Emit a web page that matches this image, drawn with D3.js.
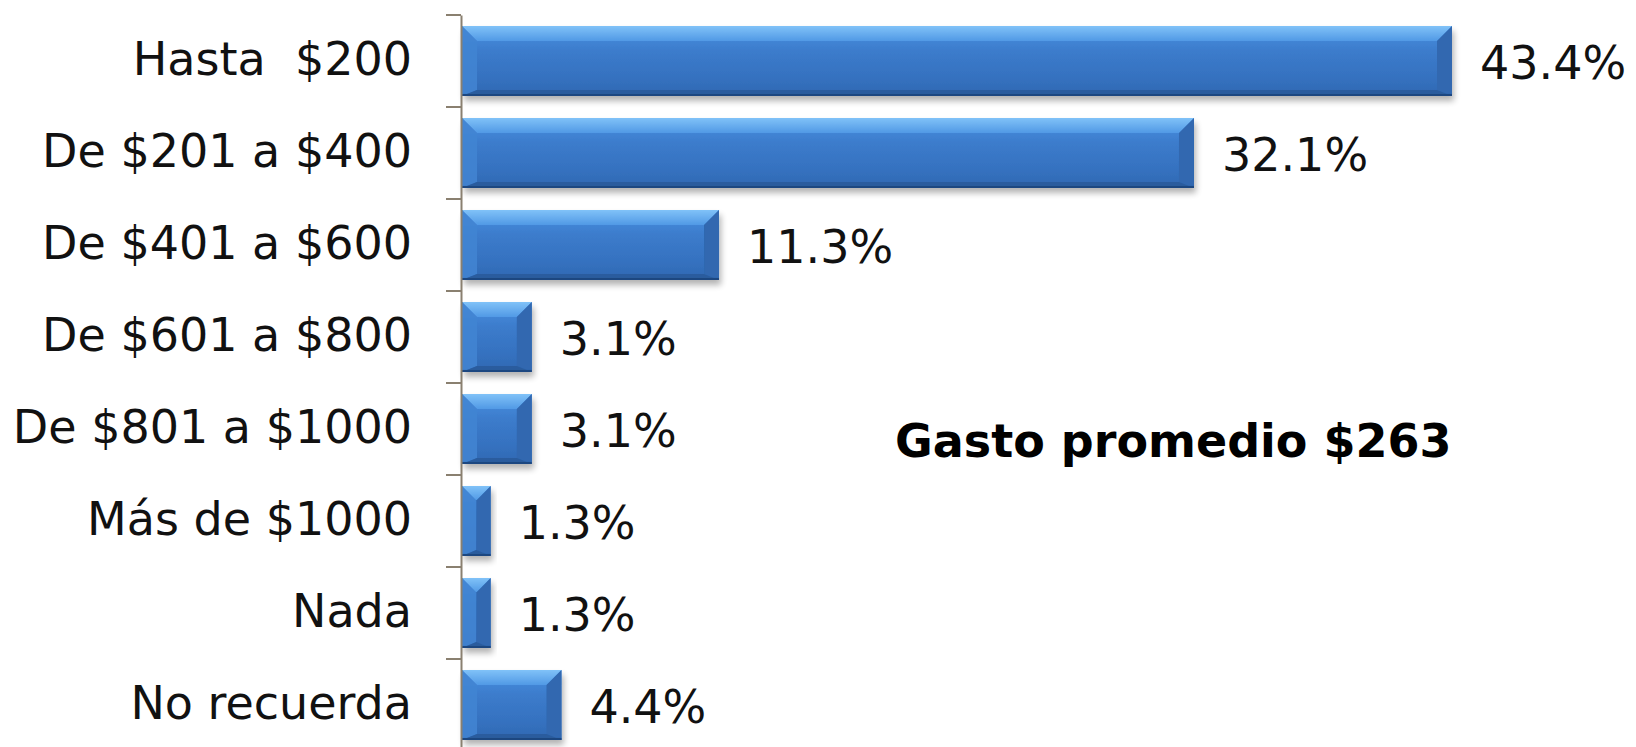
<!DOCTYPE html>
<html>
<head>
<meta charset="utf-8">
<script src="https://cdn.jsdelivr.net/npm/d3@7"></script>
<style>
  html, body { margin: 0; padding: 0; background: #ffffff; }
  svg { display: block; }
</style>
</head>
<body>
<svg id="chart" width="1636" height="747"></svg>
<script>
const categories = ["Hasta  $200", "De $201 a $400", "De $401 a $600", "De $601 a $800",
                    "De $801 a $1000", "Más de $1000", "Nada", "No recuerda"];
const values = [43.4, 32.1, 11.3, 3.1, 3.1, 1.3, 1.3, 4.4];
const valueLabels = ["43.4%", "32.1%", "11.3%", "3.1%", "3.1%", "1.3%", "1.3%", "4.4%"];
const noteText = "Gasto promedio $263";

const svg = d3.select("#chart");
const axisX = 461;

const x = d3.scaleLinear().domain([0, 43.4]).range([axisX, 1452]);
const y = d3.scaleBand().domain(categories).range([15, 751]).paddingInner(0.24).paddingOuter(0.12);

const defs = svg.append("defs");
const g = defs.append("linearGradient").attr("id", "face").attr("x1", 0).attr("y1", 0).attr("x2", 0).attr("y2", 1);
[["0%", "#4b92e2"], ["35%", "#3c7ccc"], ["75%", "#3571bf"], ["100%", "#2f68b2"]]
  .forEach(([o, c]) => g.append("stop").attr("offset", o).attr("stop-color", c));
const gt = defs.append("linearGradient").attr("id", "topbev").attr("x1", 0).attr("y1", 0).attr("x2", 0).attr("y2", 1);
[["0%", "#80c2f8"], ["100%", "#5199e5"]]
  .forEach(([o, c]) => gt.append("stop").attr("offset", o).attr("stop-color", c));
const f = defs.append("filter").attr("id", "shadow").attr("x", "-10%").attr("y", "-20%").attr("width", "130%").attr("height", "160%");
f.append("feGaussianBlur").attr("in", "SourceAlpha").attr("stdDeviation", 3);
f.append("feOffset").attr("dx", 2).attr("dy", 5).attr("result", "ob");
f.append("feComponentTransfer").append("feFuncA").attr("type", "linear").attr("slope", 0.3);
const fm = f.append("feMerge");
fm.append("feMergeNode");
fm.append("feMergeNode").attr("in", "SourceGraphic");

// bars
const bars = svg.append("g").selectAll("g.bar").data(categories).join("g").attr("class", "bar")
  .attr("filter", "url(#shadow)");

bars.each(function(c, i) {
  const sel = d3.select(this);
  const x0 = x(0) + 1, x1 = x(values[i]);
  const y0 = y(c), y1 = y(c) + y.bandwidth();
  const w = x1 - x0, h = y1 - y0;
  const b = Math.min(15, w / 2, h / 2);
  const bb = Math.min(6, b);
  sel.append("rect").attr("x", x0).attr("y", y0).attr("width", w).attr("height", h).attr("fill", "url(#face)");
  // top bevel
  sel.append("path").attr("d", `M${x0},${y0}L${x1},${y0}L${x1 - b},${y0 + b}L${x0 + b},${y0 + b}Z`).attr("fill", "url(#topbev)");
  // left bevel
  sel.append("path").attr("d", `M${x0},${y0}L${x0 + b},${y0 + b}L${x0 + b},${y1 - bb}L${x0},${y1}Z`).attr("fill", "#4285d2").attr("opacity", 0.85);
  // right bevel
  sel.append("path").attr("d", `M${x1},${y0}L${x1},${y1}L${x1 - b},${y1 - bb}L${x1 - b},${y0 + b}Z`).attr("fill", "#3068b0");
  // bottom bevel
  sel.append("path").attr("d", `M${x0},${y1}L${x0 + b},${y1 - bb}L${x1 - b},${y1 - bb}L${x1},${y1}Z`).attr("fill", "#2b5c9e");
  sel.append("rect").attr("x", x0).attr("y", y1 - 2).attr("width", w).attr("height", 2).attr("fill", "#1f4680");
});

// axis
const axis = d3.axisLeft(y).tickSize(0).tickFormat("").tickSizeOuter(0);
const ag = svg.append("g").attr("transform", `translate(${axisX},0)`).call(axis);
ag.select(".domain").attr("stroke", "#8a8070").attr("stroke-width", 2);
const step = y.step();
const bounds = d3.range(categories.length + 1).map(i => 15 + i * step);
ag.selectAll("line.tk").data(bounds).join("line").attr("class", "tk")
  .attr("x1", -15).attr("x2", 0).attr("y1", d => d).attr("y2", d => d)
  .attr("stroke", "#8a8070").attr("stroke-width", 2);

// category labels
svg.append("g").selectAll("text").data(categories).join("text")
  .attr("x", 412).attr("y", c => y(c) + y.bandwidth() / 2 - 2)
  .attr("text-anchor", "end").attr("dominant-baseline", "central")
  .attr("font-family", "DejaVu Sans, Verdana, sans-serif").attr("font-size", 46)
  .attr("fill", "#111").attr("xml:space", "preserve").style("white-space", "pre")
  .text(c => c);

// value labels
svg.append("g").selectAll("text").data(categories).join("text")
  .attr("x", (c, i) => x(values[i]) + 28).attr("y", c => y(c) + y.bandwidth() / 2 + 2)
  .attr("dominant-baseline", "central")
  .attr("font-family", "DejaVu Sans, Verdana, sans-serif").attr("font-size", 46)
  .attr("fill", "#111")
  .text((c, i) => valueLabels[i]);

// note
svg.append("text").attr("x", 895).attr("y", 457)
  .attr("font-family", "DejaVu Sans, Verdana, sans-serif").attr("font-weight", "bold")
  .attr("font-size", 46)
  .attr("fill", "#000").text(noteText);
</script>
</body>
</html>
